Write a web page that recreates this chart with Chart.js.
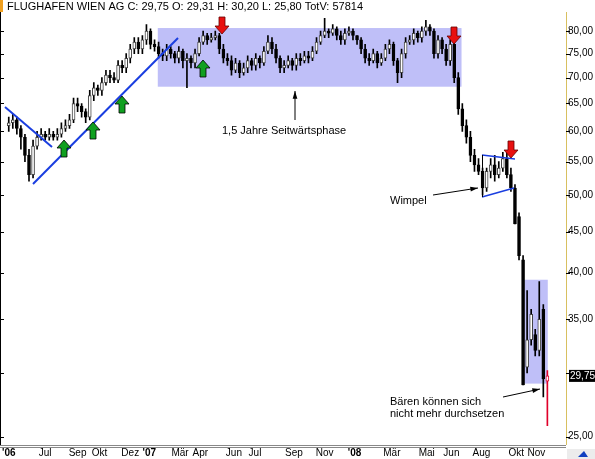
<!DOCTYPE html>
<html><head><meta charset="utf-8">
<script src="https://cdn.jsdelivr.net/npm/chart.js@4"></script>
<style>html,body{margin:0;padding:0;background:#fff}#w{width:595px;height:459px;position:relative}</style>
</head><body><div id="w"><canvas id="c" width="595" height="459"></canvas></div>
<script>
const opens=[61,61.5,62,60.5,59,56,53,57.5,59,59.5,
59,59.5,59,59.5,60.5,61,62,65,64.5,63.5,
62.5,66.5,68,67.5,69,70.5,70,69.5,72.5,72,
74,76,77.5,76,78,80,77,76.5,75,74.5,
76,75,74,75.5,73.5,74,73,75,77.5,79,
78,78.5,79,76,74,73.5,71.5,73,71,72,
73.5,72.5,74,73,75.5,77.5,76,74,72,72.5,
73.5,72.5,74,73.5,74.5,74,75.5,77.5,79,80,
79.5,80.5,79,78,79.5,80,79,78,76,74,
73.5,75,73,74,76,77,73.5,71,75,77.5,
78,79.5,78.5,80,81,80,75,78,76,73.5,
77,70,64,61,59,56,54.5,53.5,51,53.5,
54.5,53,54,55.5,53,51,47,41.5,30.5,33,
33.5,32,36,29.31];
const highs=[62.5,63,62.5,61,59.5,57,58.5,60,60.5,60,
60.5,60,60.5,61.5,62,63,66,66,65,64,
67.5,69,68.5,70,71.5,71.5,71,73.5,73.5,75,
77,78.5,78.5,79,81.5,80.5,78,77.5,76,77,
76.5,75.5,76.5,76,75,74.5,76,78.5,80,79.5,
79.5,80,79.5,77,75,74.5,74,73.5,73,74.5,
74,75,74.5,76.5,79,78.5,77,74.5,73.5,74.5,
74,75,75,75.5,75.5,76.5,78.5,80,83,80.5,
81.5,81,80,80.5,81,80.5,79,78.5,77,75,
76,75.5,75,77,78,77.5,74,76,78.5,79,
80.5,80,81,82.5,81.5,80.5,79,78.5,77,78,
77.5,71,65,62,60,57,55.5,54,54,55.5,
56,55,56.5,56.5,54,51.5,47.5,42,38,36,
34,39,36.5,30.2];
const lows=[60,60.5,59.5,57,55,52,52.5,57,58.5,58.5,
58.5,58.5,58.5,59,60,60.5,61.5,63.5,62.5,61.5,
62,65.5,66.5,66.5,68.5,69,69,69,71,71,
73,75,75,75,77,76,75.5,74,73.5,73.5,
74,73,73,72,68,72,72,74.5,77,77,
77.5,78,75,73,72.5,70.5,71,70,70.5,71,
71.5,71.5,72,72.5,75,75,73,71,71,72,
71.5,71.5,72.5,73,73,73.5,75,77,78.5,78.5,
79,78,77,77,79,78,77,75,73,72.5,
73,72,72.5,73.5,75,72.5,69,70,74,77,
77,77.5,77.5,79,79,74,74,75,72.5,72.5,
69,63,60,58,55,53.5,53,50,50.5,52.5,
52,52.5,53.5,52.5,50.5,46,41.5,29,30,32.5,
31.5,31.5,28,25.8];
const closes=[61.5,62,60.5,59,56,53,57.5,59,59.5,59,
59.5,59,59.5,60.5,61,62,65,64.5,63.5,62.5,
66.5,68,67.5,69,70.5,70,69.5,72.5,72,74,
76,77.5,76,78,80,77,76.5,75,74.5,76,
75,74,75.5,73.5,74,73,75,77.5,79,78,
78.5,79,76,74,73.5,71.5,73,71,72,73.5,
72.5,74,73,75.5,77.5,76,74,72,72.5,73.5,
72.5,74,73.5,74.5,74,75.5,77.5,79,80,79.5,
80.5,79,78,79.5,80,79,78,76,74,73.5,
75,73,74,76,77,73.5,71,75,77.5,78,
79.5,78.5,80,81,80,75,78,76,73.5,77,
70,64,61,59,56,54.5,53.5,51,53.5,54.5,
53,54,55.5,53,51,46,42,29,33,35.5,
32,35,29.5,29.75];
const monthTickIdx=[0,9,17,22.4,30,34.7,42.3,47.3,55.6,60.8,70.4,78,85.4,94.6,103.2,109.3,116.7,125.3,130.3];
const monthTickLbl=["'06","Jul","Sep","Okt","Dez","'07","Mär","Apr","Jun","Jul","Sep","Nov","'08","Mär","Mai","Jun","Aug","Okt","Nov"];
const priceTicks=[25,30,35,40,45,50,55,60,65,70,75,80];
const title="FLUGHAFEN WIEN AG C: 29,75 O: 29,31 H: 30,20 L: 25,80 TotV: 57814";

const n=closes.length;
const wick=closes.map((c,i)=>({x:i,y:[lows[i],highs[i]]}));
const body=closes.map((c,i)=>({x:i,y:[Math.min(opens[i],c),Math.max(opens[i],c)+(Math.abs(opens[i]-c)<0.2?0.15:0)]}));
const last=n-1;
const fills=closes.map((c,i)=>i===last?'#fff':(c>=opens[i]?'#fff':'#000'));
const borders=closes.map((c,i)=>i===last?'#e0002a':(c>=opens[i]?'#444':'#000'));
const wickCol=closes.map((c,i)=>i===last?'#e0002a':'#000');
const FONT="'Liberation Sans', Arial, sans-serif";

const overlay={id:'ov',
beforeDatasetsDraw(ch){const {ctx}=ch;const X=ch.scales.x,Y=ch.scales.y;
 ctx.save();ctx.fillStyle='rgba(170,170,245,0.75)';
 let x1=X.getPixelForValue(36.8),x2=X.getPixelForValue(111.8),y1=Y.getPixelForValue(80.7),y2=Y.getPixelForValue(68.2);
 ctx.fillRect(x1,y1,x2-x1,y2-y1);
 x1=X.getPixelForValue(127.3);x2=X.getPixelForValue(133.1);y1=Y.getPixelForValue(39.2);y2=Y.getPixelForValue(29.1);
 ctx.fillRect(x1,y1,x2-x1,y2-y1);
 ctx.restore();},
afterDraw(ch){const {ctx}=ch;const Y=ch.scales.y;ctx.save();
 ctx.strokeStyle='#1a3ee0';ctx.lineWidth=2;
 const L=(a,b,c,d)=>{ctx.beginPath();ctx.moveTo(a,b);ctx.lineTo(c,d);ctx.stroke();};
 L(5,107,52,147);L(33,184,178,38);
 ctx.lineWidth=1.5;L(482,155,515,159);L(482,197,514,188);ctx.lineWidth=1;ctx.strokeStyle='#000';L(482.5,155,482.5,197);
 const up=(x,y,c)=>{ctx.fillStyle=c;ctx.strokeStyle='#000';ctx.lineWidth=0.8;ctx.beginPath();
  ctx.moveTo(x,y);ctx.lineTo(x+7,y+8);ctx.lineTo(x+3,y+8);ctx.lineTo(x+3,y+17);ctx.lineTo(x-3,y+17);ctx.lineTo(x-3,y+8);ctx.lineTo(x-7,y+8);ctx.closePath();ctx.fill();ctx.stroke();};
 const dn=(x,y,c)=>{ctx.fillStyle=c;ctx.strokeStyle='#600';ctx.lineWidth=0.8;ctx.beginPath();
  ctx.moveTo(x,y);ctx.lineTo(x+7,y-8);ctx.lineTo(x+3,y-8);ctx.lineTo(x+3,y-17);ctx.lineTo(x-3,y-17);ctx.lineTo(x-3,y-8);ctx.lineTo(x-7,y-8);ctx.closePath();ctx.fill();ctx.stroke();};
 up(64,140,'#10a020');up(93,122,'#10a020');up(122,96,'#10a020');up(203,60,'#10a020');
 dn(222,34,'#e81010');dn(454,44,'#e81010');dn(511,158,'#e81010');
 ctx.fillStyle='#000';ctx.font='11px '+FONT;ctx.textBaseline='middle';
 ctx.fillText('1,5 Jahre Seitwärtsphase',222,131);
 ctx.fillText('Wimpel',390,201);
 ctx.fillText('Bären können sich',390,402);ctx.fillText('nicht mehr durchsetzen',390,414);
 const ar=(a,b,c,d)=>{ctx.strokeStyle='#000';ctx.lineWidth=1;L(a,b,c,d);const ang=Math.atan2(d-b,c-a);
  ctx.beginPath();ctx.moveTo(c,d);ctx.lineTo(c-8*Math.cos(ang-0.3),d-8*Math.sin(ang-0.3));ctx.lineTo(c-8*Math.cos(ang+0.3),d-8*Math.sin(ang+0.3));ctx.closePath();ctx.fill();};
 ar(295,120,295,91);ar(433,195,478,188);ar(503,397,540,389);
 ctx.fillStyle='#f0a020';ctx.fillRect(0,0,3,12);
 ctx.strokeStyle='#d8c060';L(566.5,12,566.5,445);
 ctx.strokeStyle='#888';L(0,445.5,566,445.5);L(0,447.5,566,447.5);
 ctx.strokeStyle='#000';L(0.5,12,0.5,445);
 priceTicks.forEach(v=>{const y=Math.round(Y.getPixelForValue(v))+0.5;L(0,y,4,y);L(566,y,570,y);});
 const yy=Y.getPixelForValue(29.75);ctx.fillStyle='#000';ctx.fillRect(569,yy-6,26,12);
 ctx.fillStyle='#fff';ctx.font='10px '+FONT;ctx.fillText('29,75',570,yy);
 ctx.fillStyle='#000';ctx.font='11px '+FONT;ctx.fillText(title,7,7);
 ctx.fillStyle='#ececec';ctx.fillRect(567,449,28,10);ctx.fillStyle='#1040c0';
 ctx.beginPath();ctx.moveTo(578,457);ctx.lineTo(584,451);ctx.lineTo(588,457);ctx.closePath();ctx.fill();
 ctx.restore();}};

new Chart(document.getElementById('c'),{
 type:'bar',
 data:{datasets:[
  {data:wick,backgroundColor:wickCol,barThickness:1,grouped:false,order:2},
  {data:body,backgroundColor:fills,borderColor:borders,borderWidth:1,borderSkipped:false,barThickness:3,grouped:false,order:1}
 ]},
 options:{responsive:false,animation:false,devicePixelRatio:1,
  layout:{padding:{top:12,left:0,right:0,bottom:0}},
  plugins:{legend:{display:false},tooltip:{enabled:false}},
  scales:{
   x:{type:'linear',min:-1.5,max:137.6,offset:false,grid:{display:false,drawTicks:false},border:{display:false},
    afterBuildTicks:s=>{s.ticks=monthTickIdx.map(v=>({value:v}));},
    afterFit:s=>{s.height=14;},
    ticks:{autoSkip:false,maxRotation:0,padding:2,color:'#000',
     font:c=>({family:FONT,size:10,weight:(c.tick&&monthTickLbl[monthTickIdx.indexOf(c.tick.value)]||'').startsWith("'")?'bold':'normal'}),
     callback:v=>{const k=monthTickIdx.indexOf(v);return k>=0?monthTickLbl[k]:'';}}},
   y:{type:'logarithmic',position:'right',min:24.4,max:84.5,grid:{display:false,drawTicks:false},border:{display:false},
    afterBuildTicks:s=>{s.ticks=priceTicks.map(v=>({value:v}));},
    afterFit:s=>{s.width=29;},
    ticks:{color:'#000',padding:2,font:{family:FONT,size:10},callback:v=>v===30?'':v.toFixed(2).replace('.',',')}}
  }},
 plugins:[overlay]
});
</script></body></html>
